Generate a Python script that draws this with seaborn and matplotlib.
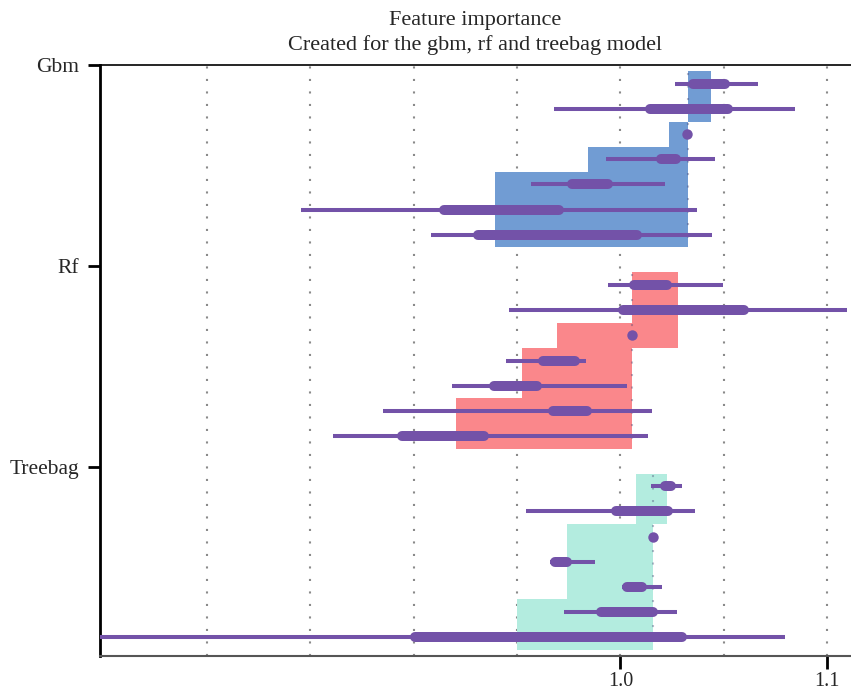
import numpy as np
import pandas as pd
import seaborn as sns
import matplotlib.pyplot as plt

# Models and their feature rows (7 permuted variables per model, top to bottom)
models = ["Gbm", "Rf", "Treebag"]
bar_colors = ["#719cd3", "#fa878b", "#b3ecdf"]
box_color = "#7352a8"

# Loss of the full model (dotted reference line per model)
full_model_loss = [1.0327, 1.0058, 1.0160]

# Bars: span of the mean dropout loss for each variable
gbm_bar_lo = [1.0327, 1.0327, 1.0234, 0.9844, 0.9392, 0.9392, 0.9392]
gbm_bar_hi = [1.0437, 1.0437, 1.0327, 1.0327, 1.0327, 1.0327, 1.0327]
rf_bar_lo = [1.0058, 1.0058, 0.9695, 0.9526, 0.9526, 0.9205, 0.9205]
rf_bar_hi = [1.0278, 1.0278, 1.0278, 1.0058, 1.0058, 1.0058, 1.0058]
treebag_bar_lo = [1.0077, 1.0077, 0.9740, 0.9740, 0.9740, 0.9498, 0.9498]
treebag_bar_hi = [1.0225, 1.0225, 1.0160, 1.0160, 1.0160, 1.0160, 1.0160]

# Boxplots of the permutation losses: min, Q1, Q3, max
gbm_min = [1.0263, 0.9679, 1.0323, 0.9932, 0.9566, 0.8457, 0.9083]
gbm_q1 = [1.0351, 1.0142, 1.0323, 1.0198, 0.9766, 0.9149, 0.9312]
gbm_q3 = [1.0505, 1.0518, 1.0323, 1.0271, 0.9941, 0.9704, 1.0081]
gbm_max = [1.0666, 1.0846, 1.0323, 1.0456, 1.0214, 1.0371, 1.0443]

rf_min = [0.9938, 0.9463, 1.0058, 0.9447, 0.9187, 0.8853, 0.8610]
rf_q1 = [1.0068, 1.0011, 1.0058, 0.9627, 0.9387, 0.9673, 0.8942]
rf_q3 = [1.0227, 1.0600, 1.0058, 0.9779, 0.9597, 0.9840, 0.9339]
rf_max = [1.0494, 1.1095, 1.0058, 0.9833, 1.0031, 1.0154, 1.0133]

treebag_min = [1.0148, 0.9543, 1.0156, 0.9662, 1.0006, 0.9728, 0.7484]
treebag_q1 = [1.0216, 0.9978, 1.0156, 0.9686, 1.0030, 0.9904, 0.9009]
treebag_q3 = [1.0247, 1.0231, 1.0156, 0.9740, 1.0106, 1.0160, 1.0296]
treebag_max = [1.0296, 1.0363, 1.0156, 0.9876, 1.0203, 1.0272, 1.0797]

grid_values = [0.80, 0.85, 0.90, 0.95, 1.00, 1.05, 1.10]
x_ticks = [1.0, 1.1]
x_tick_labels = ["1.0", "1.1"]

title = "Feature importance\nCreated for the gbm, rf and treebag model"

# Long table of all rows
frames = []
for g, (name, lo, hi, mn, q1, q3, mx) in enumerate([
    ("Gbm", gbm_bar_lo, gbm_bar_hi, gbm_min, gbm_q1, gbm_q3, gbm_max),
    ("Rf", rf_bar_lo, rf_bar_hi, rf_min, rf_q1, rf_q3, rf_max),
    ("Treebag", treebag_bar_lo, treebag_bar_hi, treebag_min, treebag_q1, treebag_q3, treebag_max),
]):
    frames.append(pd.DataFrame({
        "model": name, "group": g, "row": np.arange(7),
        "bar_lo": lo, "bar_hi": hi, "min": mn, "q1": q1, "q3": q3, "max": mx,
    }))
df = pd.concat(frames, ignore_index=True)
df["y"] = df["group"] * 8 + 0.75 + df["row"]

sns.set_theme(style="white")
plt.rcParams["font.family"] = ["Liberation Serif", "DejaVu Serif"]

fig = plt.figure(figsize=(8.51, 6.92), dpi=100)
ax = fig.add_axes([100 / 851, 1 - 656 / 692, 751 / 851, 591 / 692])

# Dotted vertical grid
for v in grid_values:
    ax.axvline(v, color="#8a8a8a", lw=1.5, linestyle=(0, (1, 5)), zorder=1)

# Bars
for _, r in df.iterrows():
    ax.barh(r["y"], r["bar_hi"] - r["bar_lo"], left=r["bar_lo"], height=1.0,
            color=bar_colors[int(r["group"])], linewidth=0, zorder=2)

# Full-model reference lines
for g, loss in enumerate(full_model_loss):
    ax.vlines(loss, g * 8 + 0.3, g * 8 + 7.2, color="#3c3c6c", alpha=0.35,
              lw=1.5, linestyle=(0, (1, 5)), zorder=3)

# Boxplots: thin whisker line, thick rounded box
for _, r in df.iterrows():
    y = r["y"]
    if r["max"] - r["min"] < 1e-6:
        ax.plot([r["q1"]], [y], marker="o", ms=7.5, color=box_color,
                markeredgewidth=0, zorder=5)
        continue
    ax.plot([r["min"], r["max"]], [y, y], color=box_color, lw=2.9,
            solid_capstyle="butt", zorder=4, clip_on=False)
    ax.plot([r["q1"], r["q3"]], [y, y], color=box_color, lw=7.2,
            solid_capstyle="round", zorder=5)

ax.set_xlim(0.7484, 1.1115)
ax.set_ylim(23.5, 0)

ax.set_yticks([0, 8, 16])
ax.set_yticklabels(models, fontsize=15.5)
ax.set_xticks(x_ticks)
ax.set_xticklabels(x_tick_labels, fontsize=14.5)
ax.tick_params(axis="y", left=True, length=9, width=2, color="black", pad=6)
ax.tick_params(axis="x", bottom=True, length=9, width=2, color="black", pad=2.5)
ax.grid(False)

for side in ["left", "top", "bottom", "right"]:
    ax.spines[side].set_visible(True)
ax.spines["left"].set_color("black")
ax.spines["left"].set_linewidth(2)
ax.spines["top"].set_color("black")
ax.spines["top"].set_linewidth(1.2)
ax.spines["bottom"].set_color("#555555")
ax.spines["bottom"].set_linewidth(1.5)
ax.spines["right"].set_visible(False)

ax.set_title(title, fontsize=16, pad=11, linespacing=1.3)

fig.savefig("out.png", dpi=100)
